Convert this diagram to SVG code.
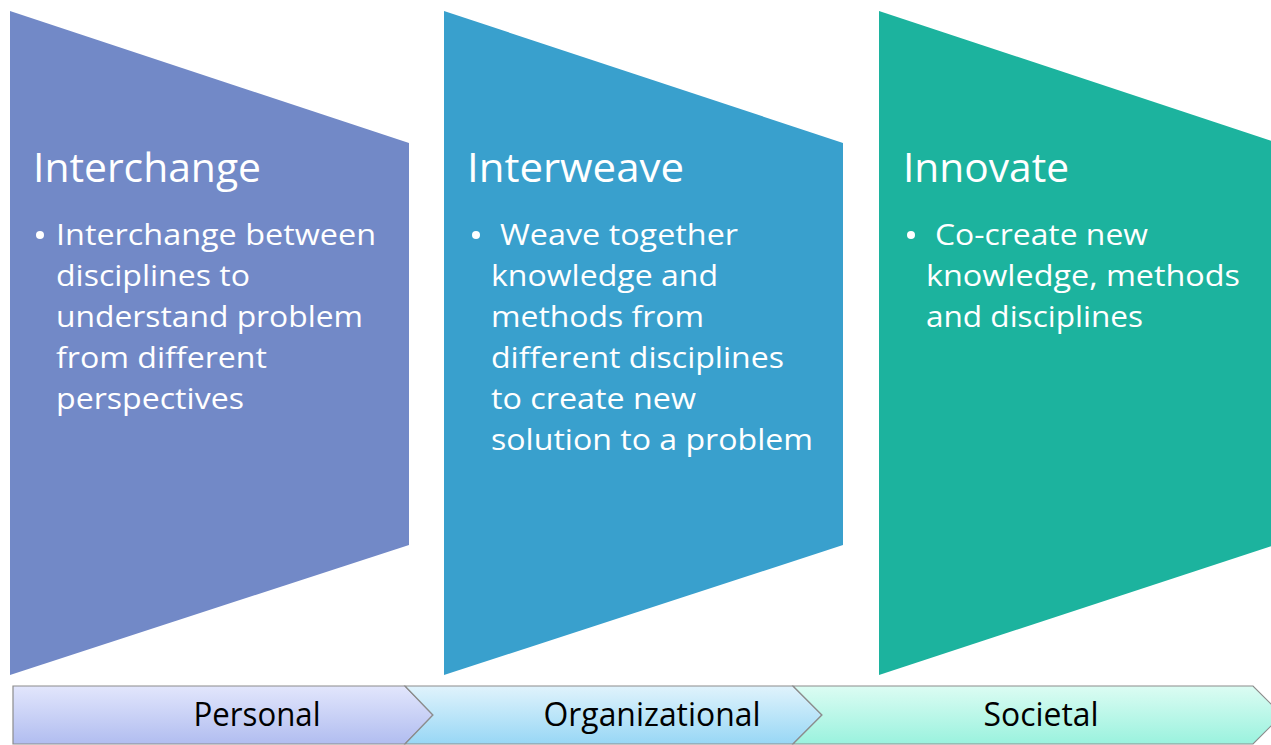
<svg xmlns="http://www.w3.org/2000/svg" width="1271" height="745" viewBox="0 0 1271 745">
  <defs>
    <linearGradient id="g1" x1="0" y1="0" x2="0" y2="1">
      <stop offset="0" stop-color="#e2e6fc"/>
      <stop offset="1" stop-color="#b1bdf0"/>
    </linearGradient>
    <linearGradient id="g2" x1="0" y1="0" x2="0" y2="1">
      <stop offset="0" stop-color="#e0f3fc"/>
      <stop offset="1" stop-color="#98d7f5"/>
    </linearGradient>
    <linearGradient id="g3" x1="0" y1="0" x2="0" y2="1">
      <stop offset="0" stop-color="#dcfcf3"/>
      <stop offset="1" stop-color="#9af2de"/>
    </linearGradient>
  </defs>
  <style>
    .title { font-family: "Open Sans", "Noto Sans", sans-serif; font-size: 40px; fill: #ffffff; }
    .body { font-family: "Open Sans", "Noto Sans", sans-serif; font-size: 30px; fill: #ffffff; }
    .lab { font-family: "Open Sans", "Noto Sans", sans-serif; font-size: 32px; fill: #000000; text-anchor: middle; }
    .chev { stroke: #8c8c8c; stroke-width: 1.2; stroke-linejoin: miter; }
  </style>
  <rect width="1271" height="745" fill="#ffffff"/>

  <g id="interchange">
    <polygon points="10,11 409,143 409,545 10,675" fill="#7289c7"/>
    <text class="title" x="33" y="182" textLength="228" lengthAdjust="spacingAndGlyphs">Interchange</text>
    <circle cx="40" cy="235" r="4" fill="#ffffff"/>
    <text class="body" x="56" y="245" textLength="320" lengthAdjust="spacingAndGlyphs">Interchange between</text>
    <text class="body" x="56" y="286" textLength="194" lengthAdjust="spacingAndGlyphs">disciplines to</text>
    <text class="body" x="56" y="327" textLength="307" lengthAdjust="spacingAndGlyphs">understand problem</text>
    <text class="body" x="56" y="368" textLength="211" lengthAdjust="spacingAndGlyphs">from different</text>
    <text class="body" x="56" y="409" textLength="188" lengthAdjust="spacingAndGlyphs">perspectives</text>
  </g>

  <g id="interweave">
    <polygon points="444,11 843,143 843,545 444,675" fill="#39a0cd"/>
    <text class="title" x="467" y="182" textLength="217" lengthAdjust="spacingAndGlyphs">Interweave</text>
    <circle cx="476" cy="235" r="4" fill="#ffffff"/>
    <text class="body" x="500" y="245" textLength="238" lengthAdjust="spacingAndGlyphs">Weave together</text>
    <text class="body" x="491" y="286" textLength="227" lengthAdjust="spacingAndGlyphs">knowledge and</text>
    <text class="body" x="491" y="327" textLength="213" lengthAdjust="spacingAndGlyphs">methods from</text>
    <text class="body" x="491" y="368" textLength="293" lengthAdjust="spacingAndGlyphs">different disciplines</text>
    <text class="body" x="491" y="409" textLength="205" lengthAdjust="spacingAndGlyphs">to create new</text>
    <text class="body" x="491" y="450" textLength="322" lengthAdjust="spacingAndGlyphs">solution to a problem</text>
  </g>

  <g id="innovate">
    <polygon points="879,11 1281,144 1281,543 879,675" fill="#1cb39e"/>
    <text class="title" x="903" y="182" textLength="166" lengthAdjust="spacingAndGlyphs">Innovate</text>
    <circle cx="911" cy="235" r="4" fill="#ffffff"/>
    <text class="body" x="935" y="245" textLength="213" lengthAdjust="spacingAndGlyphs">Co-create new</text>
    <text class="body" x="926" y="286" textLength="314" lengthAdjust="spacingAndGlyphs">knowledge, methods</text>
    <text class="body" x="926" y="327" textLength="217" lengthAdjust="spacingAndGlyphs">and disciplines</text>
  </g>

  <g id="personal">
    <polygon class="chev" points="13,686 405,686 433,715 405,744 13,744" fill="url(#g1)"/>
    <text class="lab" x="257" y="726" textLength="127" lengthAdjust="spacingAndGlyphs">Personal</text>
  </g>
  <g id="organizational">
    <polygon class="chev" points="405,686 793,686 822,715 793,744 405,744 433,715" fill="url(#g2)"/>
    <text class="lab" x="652" y="726" textLength="217" lengthAdjust="spacingAndGlyphs">Organizational</text>
  </g>
  <g id="societal">
    <polygon class="chev" points="793,686 1253,686 1282,715 1253,744 793,744 822,715" fill="url(#g3)"/>
    <text class="lab" x="1041" y="726" textLength="115" lengthAdjust="spacingAndGlyphs">Societal</text>
  </g>
  <g id="connectors"></g>
</svg>
